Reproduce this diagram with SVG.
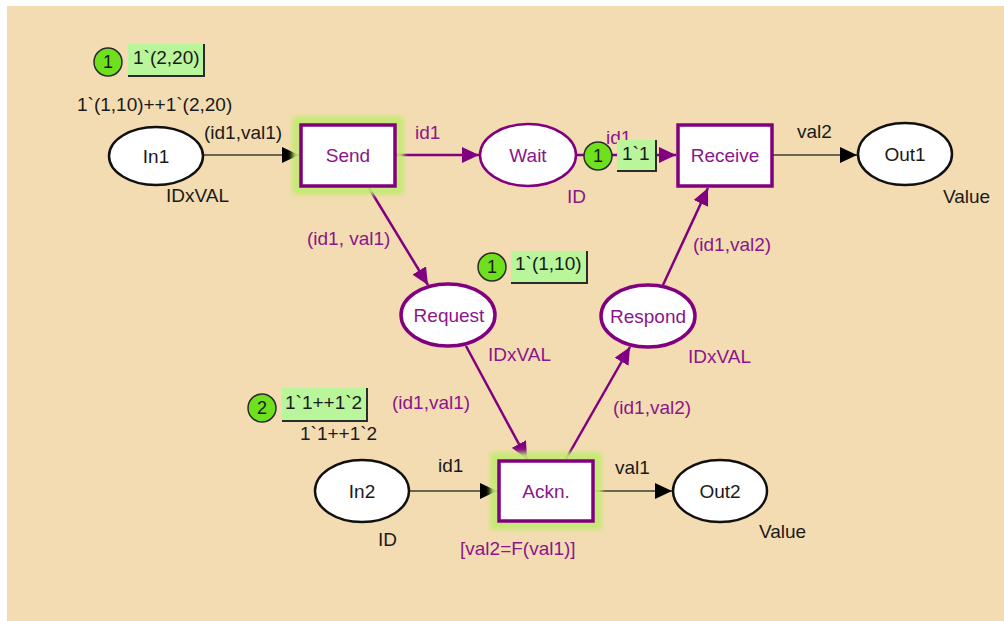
<svg xmlns="http://www.w3.org/2000/svg" width="1004" height="621" viewBox="0 0 1004 621">
  <style>
    text { font-family: "Liberation Sans", Arial, sans-serif; font-size: 19px; }
    .blk { fill: #1a1a1a; }
    .pur { fill: #8a168a; }
    .mid { text-anchor: middle; }
    .place { fill: #ffffff; stroke: #111111; stroke-width: 2.5; }
    .pplace { fill: #ffffff; stroke: #800080; stroke-width: 2.5; }
    .pplace2 { fill: #ffffff; stroke: #800080; stroke-width: 3.5; }
    .trans { fill: #ffffff; stroke: #800080; stroke-width: 3.5; }
    .glow { fill: none; stroke: #c2ea72; stroke-width: 9; filter: url(#soft); }
    .arc { fill: none; stroke: #6c6450; stroke-width: 2; }
    .parc { fill: none; stroke: #800080; stroke-width: 2.5; }
    .tok { fill: #6ee01e; stroke: #2b2b2b; stroke-width: 1.5; }
    .tokbox { fill: #b9f59b; }
    .tokedge { fill: none; stroke: #2b2b2b; stroke-width: 2; }
  </style>
  <defs>
    <filter id="soft" x="-20%" y="-20%" width="140%" height="140%">
      <feGaussianBlur stdDeviation="2.5"/>
    </filter>
    <marker id="ah-black" viewBox="0 0 17 16" refX="17" refY="8" markerWidth="17" markerHeight="16" markerUnits="userSpaceOnUse" orient="auto">
      <path d="M0,0 L17,8 L0,16 z" fill="#000000"/>
    </marker>
    <marker id="ah-purple" viewBox="0 0 17 16" refX="17" refY="8" markerWidth="17" markerHeight="16" markerUnits="userSpaceOnUse" orient="auto">
      <path d="M0,0 L17,8 L0,16 z" fill="#800080"/>
    </marker>
  </defs>

  <!-- page background -->
  <rect x="7" y="6" width="997" height="615" fill="#f4dcb2"/>

  <!-- arcs -->
  <g id="connectors">
    <line class="arc" x1="204" y1="155" x2="299" y2="155" marker-end="url(#ah-black)"/>
    <line class="parc" x1="396" y1="155" x2="479" y2="155" marker-end="url(#ah-purple)"/>
    <line class="parc" x1="577" y1="155" x2="676" y2="155" marker-end="url(#ah-purple)"/>
    <line class="arc" x1="773" y1="155" x2="857" y2="155" marker-end="url(#ah-black)"/>
    <line class="parc" x1="369" y1="188" x2="428" y2="285" marker-end="url(#ah-purple)"/>
    <line class="parc" x1="466" y1="346" x2="527" y2="459" marker-end="url(#ah-purple)"/>
    <line class="parc" x1="566" y1="459" x2="630" y2="347" marker-end="url(#ah-purple)"/>
    <line class="parc" x1="663" y1="285" x2="708" y2="188" marker-end="url(#ah-purple)"/>
    <line class="arc" x1="410" y1="491" x2="497" y2="491" marker-end="url(#ah-black)"/>
    <line class="arc" x1="594" y1="491" x2="672" y2="491" marker-end="url(#ah-black)"/>
  </g>

  <!-- arc inscriptions -->
  <g id="arc-labels">
    <text class="blk" x="204" y="139">(id1,val1)</text>
    <text class="pur" x="415" y="139">id1</text>
    <text class="pur" x="606" y="144">id1</text>
    <text class="blk" x="797" y="138">val2</text>
    <text class="pur" x="307" y="245">(id1, val1)</text>
    <text class="pur" x="693" y="251">(id1,val2)</text>
    <text class="pur" x="392" y="409">(id1,val1)</text>
    <text class="pur" x="613" y="414">(id1,val2)</text>
    <text class="blk" x="438" y="472">id1</text>
    <text class="blk" x="615" y="474">val1</text>
  </g>

  <!-- places -->
  <g id="In1">
    <ellipse class="place" cx="156" cy="156" rx="47" ry="29"/>
    <text class="blk mid" x="156" y="163">In1</text>
    <text class="blk" x="166" y="202">IDxVAL</text>
    <text class="blk" x="77" y="111">1`(1,10)++1`(2,20)</text>
  </g>
  <g id="In1-marking">
    <circle class="tok" cx="108" cy="62" r="14"/>
    <text class="blk mid" x="108" y="68" style="font-size:18px">1</text>
    <rect class="tokbox" x="128" y="44" width="76" height="32"/>
    <polyline class="tokedge" points="204,44 204,76 128,76"/>
    <text class="blk" x="133" y="64">1`(2,20)</text>
  </g>

  <g id="Wait">
    <ellipse class="pplace" cx="528" cy="155" rx="48" ry="31"/>
    <text class="pur mid" x="528" y="162">Wait</text>
    <text class="pur" x="567" y="203">ID</text>
  </g>
  <g id="Wait-marking">
    <circle class="tok" cx="598" cy="156" r="14"/>
    <text class="blk mid" x="598" y="162" style="font-size:18px">1</text>
    <rect class="tokbox" x="617" y="140" width="39" height="31"/>
    <polyline class="tokedge" points="656,140 656,171 617,171"/>
    <text class="blk" x="622" y="160">1`1</text>
  </g>

  <g id="Out1">
    <ellipse class="place" cx="905" cy="154" rx="47" ry="31"/>
    <text class="blk mid" x="905" y="161">Out1</text>
    <text class="blk" x="943" y="203">Value</text>
  </g>

  <g id="Request">
    <ellipse class="pplace2" cx="448" cy="315" rx="47" ry="31"/>
    <text class="pur mid" x="449" y="322">Request</text>
    <text class="pur" x="488" y="361">IDxVAL</text>
  </g>
  <g id="Request-marking">
    <circle class="tok" cx="492" cy="267" r="14"/>
    <text class="blk mid" x="492" y="273" style="font-size:18px">1</text>
    <rect class="tokbox" x="511" y="251" width="76" height="32"/>
    <polyline class="tokedge" points="587,251 587,283 511,283"/>
    <text class="blk" x="515" y="270">1`(1,10)</text>
  </g>

  <g id="Respond">
    <ellipse class="pplace2" cx="648" cy="316" rx="47" ry="31"/>
    <text class="pur mid" x="648" y="323">Respond</text>
    <text class="pur" x="688" y="363">IDxVAL</text>
  </g>

  <g id="In2">
    <ellipse class="place" cx="362" cy="491" rx="47" ry="31"/>
    <text class="blk mid" x="362" y="498">In2</text>
    <text class="blk" x="378" y="546">ID</text>
    <text class="blk" x="300" y="440">1`1++1`2</text>
  </g>
  <g id="In2-marking">
    <circle class="tok" cx="262" cy="408" r="14"/>
    <text class="blk mid" x="262" y="414" style="font-size:18px">2</text>
    <rect class="tokbox" x="282" y="388" width="85" height="33"/>
    <polyline class="tokedge" points="367,388 367,421 282,421"/>
    <text class="blk" x="285" y="409">1`1++1`2</text>
  </g>

  <g id="Out2">
    <ellipse class="place" cx="720" cy="491" rx="47" ry="31"/>
    <text class="blk mid" x="720" y="498">Out2</text>
    <text class="blk" x="759" y="538">Value</text>
  </g>

  <!-- transitions -->
  <g id="Send">
    <rect class="glow" x="297" y="121" width="102" height="69"/>
    <rect class="trans" x="301" y="125" width="94" height="61"/>
    <text class="pur mid" x="348" y="162">Send</text>
  </g>
  <g id="Receive">
    <rect class="trans" x="678" y="125" width="94" height="61"/>
    <text class="pur mid" x="725" y="162">Receive</text>
  </g>
  <g id="Ackn">
    <rect class="glow" x="495" y="457" width="102" height="68"/>
    <rect class="trans" x="499" y="461" width="94" height="60"/>
    <text class="pur mid" x="546" y="498">Ackn.</text>
    <text class="pur" x="460" y="555">[val2=F(val1)]</text>
  </g>
</svg>
